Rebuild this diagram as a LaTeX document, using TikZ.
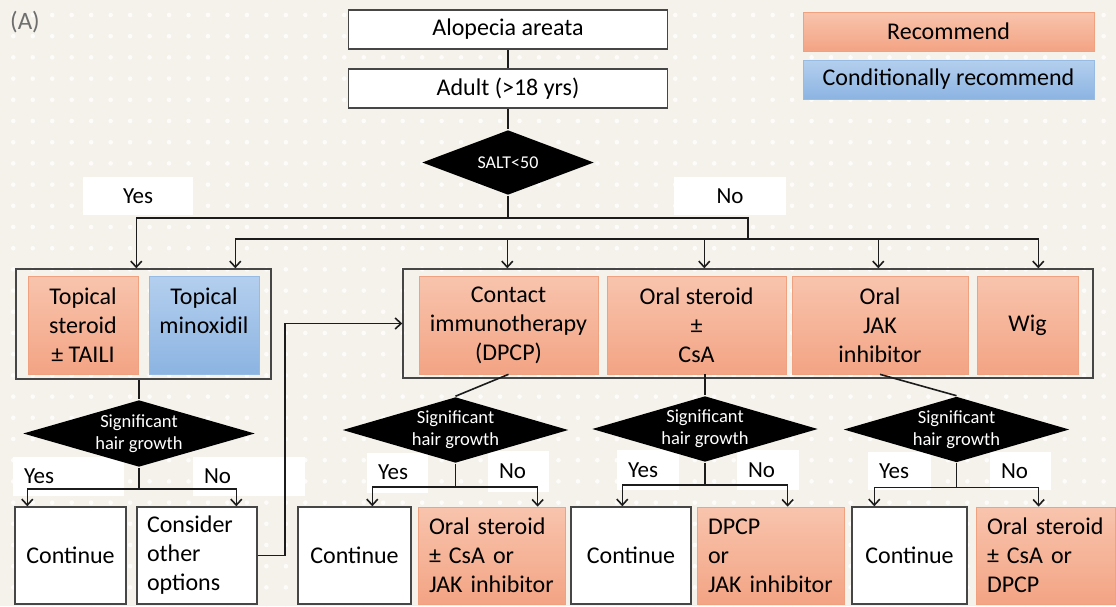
\documentclass[tikz,border=0pt]{standalone}
\usepackage{fontspec}
\setmainfont{Carlito}
\usetikzlibrary{arrows.meta,positioning,calc,shapes.geometric}
\definecolor{ink}{RGB}{28,28,28}
\definecolor{frame}{RGB}{70,70,70}
\definecolor{paper}{RGB}{245,242,235}
\definecolor{dotc}{RGB}{253,252,250}
\definecolor{recA}{RGB}{248,196,173}
\definecolor{recB}{RGB}{243,164,132}
\definecolor{recline}{RGB}{240,162,128}
\definecolor{conA}{RGB}{180,207,238}
\definecolor{conB}{RGB}{140,180,226}
\definecolor{conline}{RGB}{152,187,227}
\definecolor{panel}{RGB}{110,110,110}
\newcommand{\boxfont}{\fontsize{24}{29}\selectfont}
\newcommand{\tagfont}{\fontsize{23}{28}\selectfont}
\newcommand{\askfont}{\fontsize{18.5}{22}\selectfont}
\tikzset{
  every picture/.style={x=1pt, y=-1pt, line width=1.6pt, color=ink},
  box/.style={draw=frame, line width=1.4pt, fill=white, inner sep=0pt, align=center, font=\boxfont, text=black},
  rec/.style={box, draw=recline, line width=0.7pt, top color=recA, bottom color=recB},
  cond/.style={box, draw=conline, line width=0.7pt, top color=conA, bottom color=conB},
  group/.style={draw=frame, line width=1.4pt, inner sep=0pt},
  ask/.style={diamond, fill=black, text=white, inner sep=0pt, shape aspect=3.4, minimum width=226pt, minimum height=66pt, align=center, font=\askfont},
  tag/.style={fill=white, inner sep=0pt, font=\tagfont, text=black},
  tagl/.style={tag, align=left, inner xsep=11pt},
  flow/.style={-{Straight Barb[length=6pt,width=11pt]}, line width=1.6pt},
  link/.style={line width=1.6pt},
}

\begin{document}
\begin{tikzpicture}
  % AA treatment flow: SALT split on top, three follow-up decisions below
  \useasboundingbox (0,0) rectangle (1116,606);
  \fill[paper] (0,0) rectangle (1116,606);
  \foreach \i in {0,...,57}
    \foreach \j in {0,...,28}
      \fill[dotc] (13.3+19.47*\i, 15+21.2*\j) circle (2.3pt);

  \node[font=\fontsize{25}{30}\selectfont, text=panel, inner sep=0pt] (panel) at (25,22) {(A)};

  \node[box, minimum width=319pt, minimum height=39pt] (alopecia) at (508,29.5) {Alopecia areata};
  \node[box, minimum width=319pt, minimum height=39pt] (adult) at (508,88.5) {Adult (>18 yrs)};
  \node[ask, minimum width=172pt, minimum height=65pt, shape aspect=2.6, font=\fontsize{18}{22}\selectfont] (salt) at (508,162.5) {SALT<50};

  \node[rec, minimum width=291pt, minimum height=39pt] (legrec) at (948.5,31.5) {Recommend};
  \node[cond, minimum width=291pt, minimum height=39pt] (legcond) at (948.5,79.5) {Conditionally recommend};

  \node[tag, minimum width=110pt, minimum height=38pt] (yes) at (138,196) {Yes};
  \node[tag, minimum width=112pt, minimum height=38pt] (no) at (730,196) {No};

  % first-line options
  \node[group, minimum width=255pt, minimum height=110pt] (grpL) at (143.5,324) {};
  \node[group, minimum width=690pt, minimum height=109pt] (grpR) at (748,323.5) {};
  \node[rec, minimum width=110pt, minimum height=98pt] (tster) at (83,325) {Topical\\steroid\\± TAILI};
  \node[cond, minimum width=110pt, minimum height=98pt] (minox) at (204,325) {Topical\\minoxidil\\\mbox{}};
  \node[rec, minimum width=179pt, minimum height=98pt] (dpcp) at (508.5,325) {Contact\\immunotherapy\\(DPCP)};
  \node[rec, minimum width=179pt, minimum height=98pt] (orst) at (696.5,325) {Oral steroid\\±\\CsA};
  \node[rec, minimum width=176pt, minimum height=98pt] (jak) at (880,325) {Oral\\JAK\\inhibitor};
  \node[rec, minimum width=101pt, minimum height=98pt] (wig) at (1027.5,325) {Wig};

  % answers under the growth checks
  \node[tagl, text width=89pt, minimum height=39pt] (yes0) at (68.5,476.5) {Yes};
  \node[tagl, text width=90pt, minimum height=39pt] (no0) at (249,476.5) {No};
  \node[tagl, text width=39pt, minimum height=40pt] (yes1) at (397.5,472.5) {Yes};
  \node[tagl, text width=39pt, minimum height=41pt] (no1) at (518.5,471.5) {No};
  \node[tagl, text width=40pt, minimum height=40pt] (yes2) at (648,470) {Yes};
  \node[tagl, text width=40pt, minimum height=40pt] (no2) at (768,470) {No};
  \node[tagl, text width=41pt, minimum height=38pt] (yes3) at (899.5,471) {Yes};
  \node[tagl, text width=39pt, minimum height=38pt] (no3) at (1020.5,471) {No};

  \node[ask, minimum width=232pt, minimum height=67pt] (hg0) at (139,433.5) {Significant\\hair growth};
  \node[ask] (hg1) at (455.5,430) {Significant\\hair growth};
  \node[ask] (hg2) at (705,429) {Significant\\hair growth};
  \node[ask] (hg3) at (956.5,429.5) {Significant\\hair growth};

  % outcomes
  \node[box, minimum width=111pt, minimum height=97pt] (cont0) at (70.5,555.5) {Continue};
  \node[box, align=left, inner xsep=10pt, text width=100pt, minimum height=97pt] (other) at (197,555.5) {Consider\\other\\options};
  \node[box, minimum width=113pt, minimum height=97pt] (cont1) at (354.5,555.5) {Continue};
  \node[rec, align=left, inner xsep=11pt, text width=125pt, minimum height=97pt] (alt1) at (491.5,555.5) {Oral steroid\\± CsA or\\JAK inhibitor};
  \node[box, minimum width=120pt, minimum height=97pt] (cont2) at (631,555.5) {Continue};
  \node[rec, align=left, inner xsep=11pt, text width=125pt, minimum height=97pt] (alt2) at (770.5,555.5) {DPCP\\or\\JAK inhibitor};
  \node[box, minimum width=115pt, minimum height=97pt] (cont3) at (909.5,555.5) {Continue};
  \node[rec, align=left, inner xsep=11pt, text width=117pt, minimum height=97pt] (alt3) at (1045.5,555.5) {Oral steroid\\± CsA or\\DPCP};

  % connectors
  \coordinate (jtop) at ($(salt.south)+(0,22)$);
  \coordinate (jno) at (748,239);
  \draw[link] (alopecia) -- (adult);
  \draw[link] (adult) -- (salt);
  \draw[link] (salt.south) -- (jtop);
  \draw[flow] (jtop) -| ([xshift=121pt]grpL.north west);
  \draw[link] (jtop) -| (jno);
  \draw[flow] (jno) -| ([xshift=220pt]grpL.north west);
  \draw[flow] (jno) -| ([xshift=105pt]grpR.north west);
  \draw[flow] (jno) -| ([xshift=302pt]grpR.north west);
  \draw[flow] (jno) -| ([xshift=476pt]grpR.north west);
  \draw[flow] (jno) -| ([xshift=636pt]grpR.north west);

  \draw[link] (grpL.south -| hg0.north) -- (hg0.north);
  \draw[link] (dpcp.south) -- (hg1.north);
  \draw[link] (orst.south -| hg2.north) -- (hg2.north);
  \draw[link] (jak.south) -- (hg3.north);

  \coordinate (j0) at ($(hg0.south)+(0,21)$);
  \draw[link] (hg0.south) -- (j0);
  \draw[flow] (j0) -| ([xshift=13pt]cont0.north west);
  \draw[flow] (j0) -| ([xshift=100pt]other.north west);
  \coordinate (j1) at ($(hg1.south)+(0,23)$);
  \draw[link] (hg1.south) -- (j1);
  \draw[flow] (j1) -| ([xshift=75pt]cont1.north west);
  \draw[flow] (j1) -| ([xshift=120pt]alt1.north west);
  \coordinate (j2) at ($(hg2.south)+(0,22)$);
  \draw[link] (hg2.south) -- (j2);
  \draw[flow] (j2) -| ([xshift=52pt]cont2.north west);
  \draw[flow] (j2) -| ([xshift=91pt]alt2.north west);
  \coordinate (j3) at ($(hg3.south)+(0,24)$);
  \draw[link] (hg3.south) -- (j3);
  \draw[flow] (j3) -| ([xshift=23pt]cont3.north west);
  \draw[flow] (j3) -| ([xshift=63pt]alt3.north west);

  \draw[flow] (other.east) -- ++(27,0) |- (grpR.west);
\end{tikzpicture}
\end{document}
